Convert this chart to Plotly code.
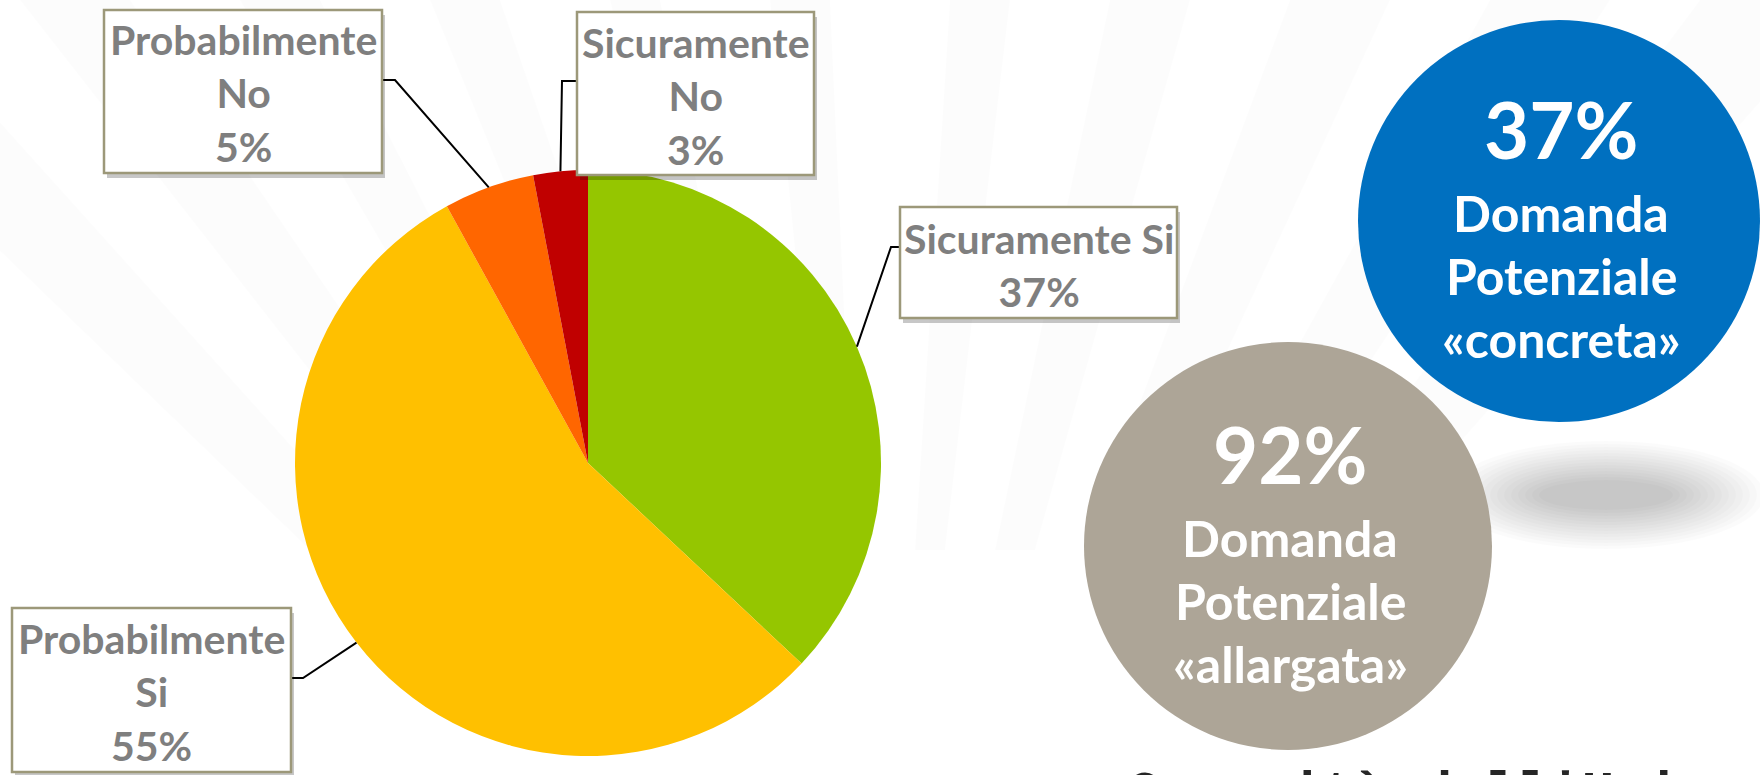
"""
Domanda potenziale - pie chart with callout labels and summary bubbles
"""

import numpy as np
import plotly.graph_objects as go

# ---- data ----
categories = ["Sicuramente Si", "Probabilmente Si", "Probabilmente No", "Sicuramente No"]
values = [37, 55, 5, 3]
slice_colors = ["#95C600", "#FFC000", "#FF6600", "#C00000"]
label_texts = ["Sicuramente Si", "Probabilmente<br>Si", "Probabilmente<br>No", "Sicuramente<br>No"]

bubble_values = ["37%", "92%"]
bubble_lines = [["Domanda", "Potenziale", "«concreta»"], ["Domanda", "Potenziale", "«allargata»"]]
bubble_colors = ["#0070C0", "#ADA597"]

footer_text = "Comunità dell'Unione"

# ---- page geometry (pixels) ----
W, H = 1760, 775
CX, CY, R = 588, 463, 293

# label boxes: x0, y0, x1, y1 and the leader stub (box edge -> elbow)
boxes = [(900, 207, 1177, 318), (12, 608, 291, 772), (104, 10, 382, 173), (577, 12, 814, 175)]
stubs = [((900, 247), (891, 247)), ((291, 678), (303, 678)),
         ((382, 80), (395, 80)), ((577, 81), (562, 81))]

bubbles = [(1559, 221, 201), (1288, 546, 204)]


def px(x):
    return x / W


def py(y):
    return 1 - y / H


fig = go.Figure()

fig.add_trace(go.Pie(
    labels=categories,
    values=values,
    marker=dict(colors=slice_colors, line=dict(width=0)),
    sort=False,
    direction="clockwise",
    rotation=0,
    textinfo="none",
    showlegend=False,
    domain=dict(x=[px(CX - R), px(CX + R)], y=[py(CY + R), py(CY - R)]),
))

shapes = []
annotations = []

# faint background rays
ray_tops = [(-260, -110), (20, 130), (240, 320), (430, 500), (610, 660), (770, 830),
            (950, 1010), (1110, 1190), (1290, 1390), (1490, 1610), (1700, 1850)]
fx, fy = 880, 1100
for a, b in ray_tops:
    pts = []
    for tx, t in [(a, 0.0), (b, 0.0), (b, 0.5), (a, 0.5)]:
        pts.append((tx + (fx - tx) * t, fy * t))
    path = "M " + " L ".join(f"{px(x)},{py(y)}" for x, y in pts) + " Z"
    shapes.append(dict(type="path", path=path, xref="paper", yref="paper",
                       fillcolor="rgba(0,0,0,0.012)", line=dict(width=0), layer="below"))

# blurred shadow ellipse next to the grey bubble
for k in range(14):
    rx, ry = 158 - k * 7, 54 - k * 3
    shapes.append(dict(type="circle", xref="paper", yref="paper",
                       x0=px(1606 - rx), x1=px(1606 + rx), y0=py(495 + ry), y1=py(495 - ry),
                       fillcolor="rgba(0,0,0,0.016)", line=dict(width=0), layer="below"))

# summary bubbles
for (bx, by, br), col, big, lines in zip(bubbles, bubble_colors, bubble_values, bubble_lines):
    shapes.append(dict(type="circle", xref="paper", yref="paper",
                       x0=px(bx - br), x1=px(bx + br), y0=py(by + br), y1=py(by - br),
                       fillcolor=col, line=dict(width=0), layer="below"))
    annotations.append(dict(x=px(bx + 2), y=py(by - 92), xref="paper", yref="paper",
                            text=f"<b>{big}</b>", showarrow=False, xanchor="center", yanchor="middle",
                            font=dict(family="Lato", size=78, color="white")))
    for i, line in enumerate(lines):
        annotations.append(dict(x=px(bx + 2), y=py(by - 8 + i * 63), xref="paper", yref="paper",
                                text=f"<b>{line}</b>", showarrow=False, xanchor="center",
                                yanchor="middle",
                                font=dict(family="Lato", size=50, color="white")))

# callout boxes and leader lines
cum = np.cumsum([0] + values)
total = float(sum(values))
for i, (box, stub) in enumerate(zip(boxes, stubs)):
    mid = (cum[i] + values[i] / 2) / total * 2 * np.pi
    ex = CX + R * np.sin(mid)
    ey = CY - R * np.cos(mid)
    (sx, sy), (kx, ky) = stub
    path = f"M {px(sx)},{py(sy)} L {px(kx)},{py(ky)} L {px(ex)},{py(ey)}"
    shapes.append(dict(type="path", path=path, xref="paper", yref="paper",
                       line=dict(color="black", width=2), layer="above"))

    x0, y0, x1, y1 = box
    shapes.append(dict(type="rect", xref="paper", yref="paper",
                       x0=px(x0 + 3), x1=px(x1 + 3), y0=py(y1 + 5), y1=py(y0 + 5),
                       fillcolor="rgba(0,0,0,0.22)", line=dict(width=0), layer="above"))
    shapes.append(dict(type="rect", xref="paper", yref="paper",
                       x0=px(x0), x1=px(x1), y0=py(y1), y1=py(y0),
                       fillcolor="white", line=dict(color="#9C9879", width=2.5), layer="above"))
    annotations.append(dict(x=px((x0 + x1) / 2), y=py((y0 + y1) / 2 + 2), xref="paper", yref="paper",
                            text=f"<b>{label_texts[i]}<br>{values[i]}%</b>", showarrow=False,
                            xanchor="center", yanchor="middle", align="center",
                            font=dict(family="Lato", size=41, color="#7F7F7F")))

# footer text, clipped by the bottom of the page as in the original slide
annotations.append(dict(x=px(1126), y=py(762), xref="paper", yref="paper",
                        text=f"<b>{footer_text}</b>", showarrow=False,
                        xanchor="left", yanchor="top",
                        font=dict(family="Liberation Mono", size=54, color="#262626")))

fig.update_layout(
    width=W,
    height=H,
    margin=dict(l=0, r=0, t=0, b=0),
    paper_bgcolor="white",
    plot_bgcolor="white",
    shapes=shapes,
    annotations=annotations,
    showlegend=False,
)

fig.write_html("out.html", config={"displayModeBar": False},
               post_script="document.body.style.margin='0';")
